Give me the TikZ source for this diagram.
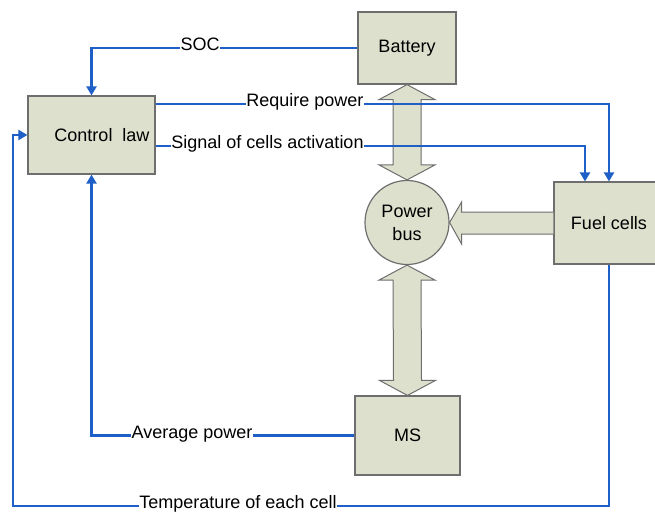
\documentclass[tikz,border=0pt]{standalone}
\usepackage{fontspec}
\setmainfont{Liberation Sans}
\usetikzlibrary{arrows.meta,calc}
\definecolor{boxfill}{RGB}{221,224,205}
\definecolor{boxline}{RGB}{110,110,110}
\definecolor{sigblue}{RGB}{30,96,200}
\tikzset{
	blk/.style={draw=boxline,fill=boxfill,line width=1.2pt,inner sep=0pt},
	fat/.style={draw=boxline,fill=boxfill,line width=1pt,line join=miter},
	sig/.style={draw=sigblue,line width=2.8pt},
	lbl/.style={fill=white,inner sep=0.5pt,anchor=mid},
	tip/.style={-{Triangle[length=9pt,width=10pt]}}
}
\begin{document}
\begin{tikzpicture}[x=1pt,y=-1pt,font=\fontsize{18}{23}\selectfont]
	\useasboundingbox (0,0) rectangle (655,514);
	% blocks
	\node[blk,minimum width=127,minimum height=78] at (91.5,135) (law) {\hspace*{21pt}Control\ \ law};
	\node[blk,minimum width=98,minimum height=72] at (407,48) (bat) {Battery};
	\node[blk,minimum width=110,minimum height=82] at (609,223) (fc) {Fuel cells};
	\node[blk,circle,minimum size=84,align=center] at (407,222.5) (bus) {Power\\bus};
	\node[blk,minimum width=105,minimum height=79] at (407.5,435.5) (ms) {MS};
	% power flows
	\foreach \a/\b in {bat/bus, bus/ms}
		\draw[fat] let \p1=(\a.south), \p2=(\b.north) in
			(\x1,\y1) -- (\x1+28pt,\y1-15pt) -- (\x1+14pt,\y1-15pt) -- (\x2+14pt,\y2+15pt) -- (\x2+28pt,\y2+15pt)
			-- (\x2,\y2) -- (\x2-28pt,\y2+15pt) -- (\x2-14pt,\y2+15pt) -- (\x1-14pt,\y1-15pt) -- (\x1-28pt,\y1-15pt) -- cycle;
	\draw[fat] let \p1=(fc.west), \p2=(bus.east) in
		(\x1,\y1+11pt) -- (\x2+12pt,\y1+11pt) -- (\x2+12pt,\y1+21pt) -- (\x2,\y2)
		-- (\x2+12pt,\y1-21pt) -- (\x2+12pt,\y1-11pt) -- (\x1,\y1-11pt);
	% signals
	\node[lbl] at (200,48) (soc) {SOC};
	\node[lbl] at (305,104) (req) {Require power};
	\node[lbl] at (267.5,146) (act) {Signal of cells activation};
	\node[lbl] at (192,435.5) (avg) {Average power};
	\node[lbl] at (238,506) (temp) {Temperature of each cell};
	\coordinate (corner) at (13,506);
	\draw[sig,tip] (bat.west) -- (soc.mid east) (soc.mid west) -| (law.north);
	\draw[sig] (law.east |- req.mid west) -- (req.mid west);
	\draw[sig,tip] (req.mid east) -| (fc.north);
	\draw[sig] (law.east |- act.mid west) -- (act.mid west);
	\draw[sig,tip] (act.mid east) -| ($(fc.north)+(-24,0)$);
	\draw[sig] (ms.west) -- (avg.mid east);
	\draw[sig,tip] (avg.mid west) -| (law.south);
	\draw[sig] (fc.south) |- (temp.mid east);
	\draw[sig,tip] (temp.mid west) -- (corner) |- (law.west);
\end{tikzpicture}
\end{document}
